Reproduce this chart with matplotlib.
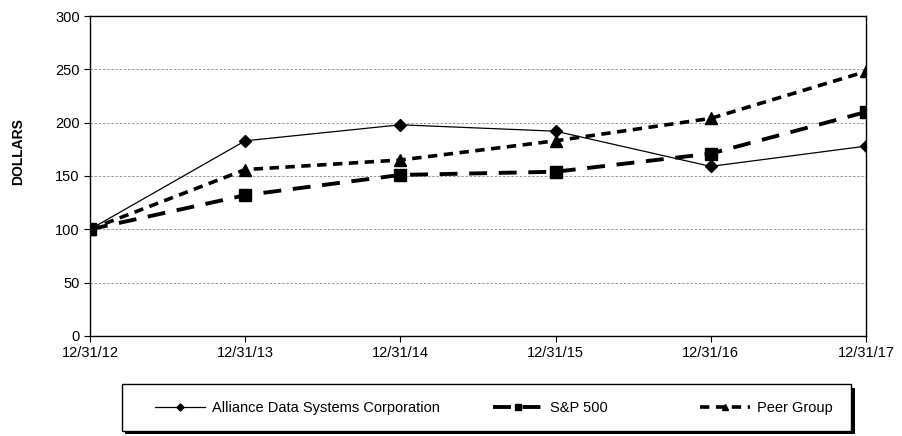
import matplotlib.pyplot as plt
from matplotlib.patches import Rectangle

# chart data
dates = ["12/31/12", "12/31/13", "12/31/14", "12/31/15", "12/31/16", "12/31/17"]
ads_values = [100, 183, 198, 192, 159, 178]
sp500_values = [100, 132, 151, 154, 171, 210]
peer_values = [100, 156, 165, 183, 204, 248]
y_ticks = [0, 50, 100, 150, 200, 250, 300]

plt.rcParams["font.family"] = ["Liberation Sans", "DejaVu Sans"]

fig = plt.figure(figsize=(9.02, 4.36), dpi=100)
ax = fig.add_axes([0.0998, 0.2294, 0.8602, 0.7339])

x = list(range(len(dates)))
ads_line, = ax.plot(x, ads_values, color="black", linewidth=0.9, marker="D", markersize=6,
                    label="Alliance Data Systems Corporation")
sp_line, = ax.plot(x, sp500_values, color="black", linewidth=2.8, marker="s", markersize=8,
                   dashes=(4.6, 3.0), label="S&P 500")
peer_line, = ax.plot(x, peer_values, color="black", linewidth=2.6, marker="^", markersize=8,
                     dashes=(2.6, 1.8), label="Peer Group")

ax.set_xlim(0, len(dates) - 1)
ax.set_ylim(0, 300)
ax.set_xticks(x)
ax.set_xticklabels(dates)
ax.set_yticks(y_ticks)
ax.tick_params(labelsize=10.5, length=4, direction="out", colors="black")
for gy in y_ticks[1:-1]:
    ax.axhline(gy, color="#888888", linewidth=0.6, linestyle=(0, (3, 2)), zorder=0)
for spine in ax.spines.values():
    spine.set_linewidth(1.0)
ax.set_ylabel("DOLLARS", fontsize=10, fontweight="bold")
ax.yaxis.set_label_coords(-0.083, 0.575)

# legend box with shadow
lx, ly, lw, lh = 0.135, 0.012, 0.809, 0.107
fig.patches.append(Rectangle((lx + 0.004, ly - 0.008), lw, lh, transform=fig.transFigure,
                             facecolor="black", edgecolor="none", zorder=1))
fig.patches.append(Rectangle((lx, ly), lw, lh, transform=fig.transFigure,
                             facecolor="white", edgecolor="black", linewidth=1.0, zorder=2))

# one legend entry per column, placed like the original
legend_y = 1 - 408 / 436
for handle, left_px in [(ads_line, 155), (sp_line, 493), (peer_line, 700)]:
    fig.legend(handles=[handle], loc="center left", bbox_to_anchor=(left_px / 902, legend_y),
               frameon=False, fontsize=10.5, handlelength=3.4, handletextpad=0.5,
               borderpad=0, borderaxespad=0, markerscale=0.6)

fig.savefig("out.png", dpi=100)
